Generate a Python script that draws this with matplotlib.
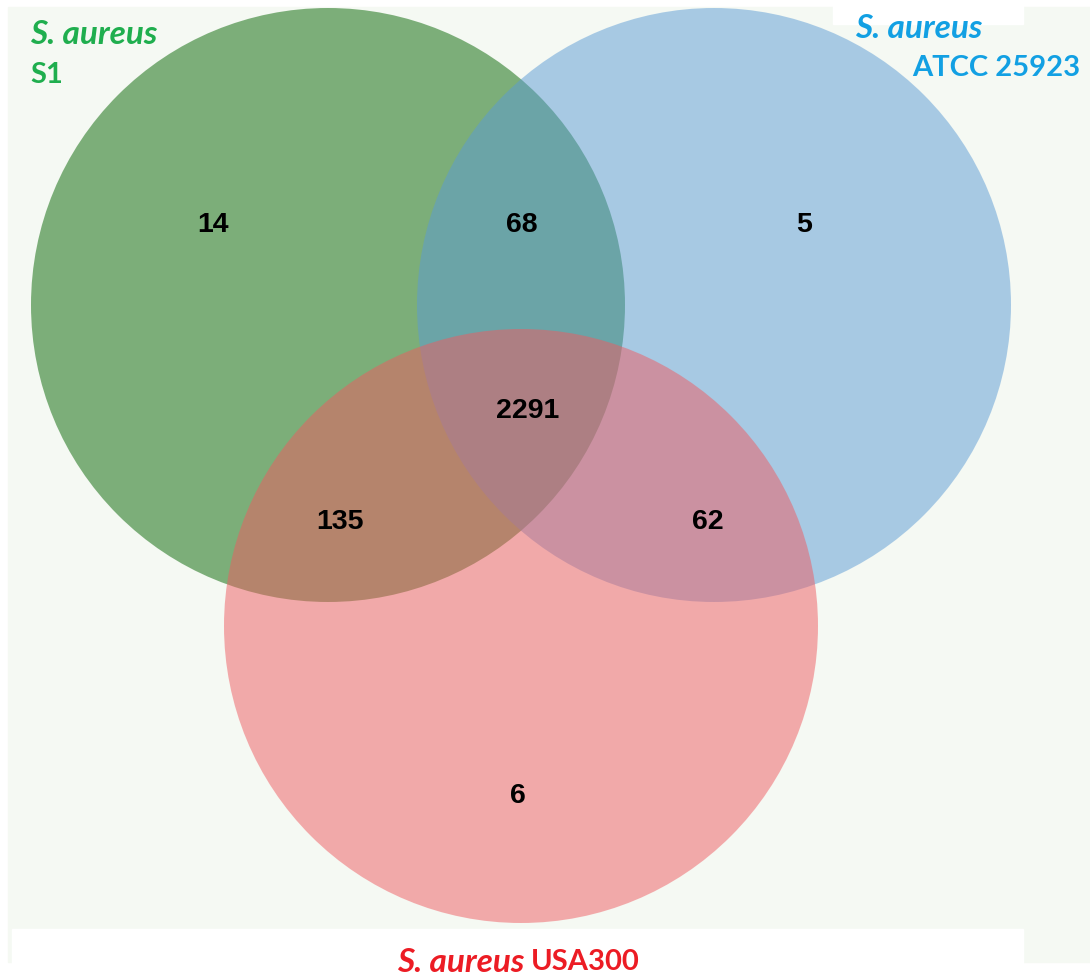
import matplotlib.pyplot as plt
from matplotlib.patches import Circle, Rectangle

# region counts (S1 only, S1&ATCC, ATCC only, all three, S1&USA300, ATCC&USA300, USA300 only)
regions = ['S1', 'S1_ATCC', 'ATCC', 'ALL', 'S1_USA', 'ATCC_USA', 'USA']
counts = [14, 68, 5, 2291, 135, 62, 6]

set_names = ['S1', 'ATCC 25923', 'USA300']
set_colors = ['#056501', '#5b9bd5', '#ef5b61']
label_colors = ['#1fae4e', '#12a0e3', '#ec1c24']

W, H = 1090, 978
fig = plt.figure(figsize=(W / 100, H / 100), dpi=100)
ax = fig.add_axes([0, 0, 1, 1])
ax.set_xlim(0, W)
ax.set_ylim(H, 0)
ax.axis('off')

# background panels
ax.add_patch(Rectangle((8, 8), W - 8, 955, color='#f5f9f3', zorder=0))
ax.add_patch(Rectangle((12, 930), 1011, 60, color='white', zorder=0.5))
ax.add_patch(Rectangle((833, 0), 190, 25, color='white', zorder=0.5))

# circles: centre and radius in pixels
centres = [(328, 306), (714, 306), (521, 627)]
radius = 297
for (cx, cy), c in zip(centres, set_colors):
    ax.add_patch(Circle((cx, cy), radius, facecolor=c, edgecolor='none', alpha=0.5, zorder=1))

# number positions
pos = {'S1': (213, 225), 'S1_ATCC': (522, 225), 'ATCC': (804, 225), 'ALL': (528, 411),
       'S1_USA': (340, 522), 'ATCC_USA': (708, 522), 'USA': (518, 796)}
for r, n in zip(regions, counts):
    x, y = pos[r]
    ax.text(x, y, str(n), ha='center', va='center', fontsize=20.5, fontweight='bold',
            family='Liberation Sans', color='black', zorder=3)

it = dict(fontsize=24, fontweight='bold', family='Lato', style='italic', zorder=3)
rg = dict(fontsize=21, fontweight='bold', family='Lato', zorder=3)
ax.text(30, 35, 'S. aureus', ha='left', va='center', color=label_colors[0], **it)
ax.text(30, 75, set_names[0], ha='left', va='center', color=label_colors[0], **rg)
ax.text(982, 29, 'S. aureus', ha='right', va='center', color=label_colors[1], **it)
ax.text(1080, 68, set_names[1], ha='right', va='center', color=label_colors[1], **rg)
ax.text(524, 962, 'S. aureus', ha='right', va='center', color=label_colors[2], **it)
ax.text(531, 962, set_names[2], ha='left', va='center', color=label_colors[2], **rg)

fig.savefig('out.png', dpi=100, facecolor='white')
